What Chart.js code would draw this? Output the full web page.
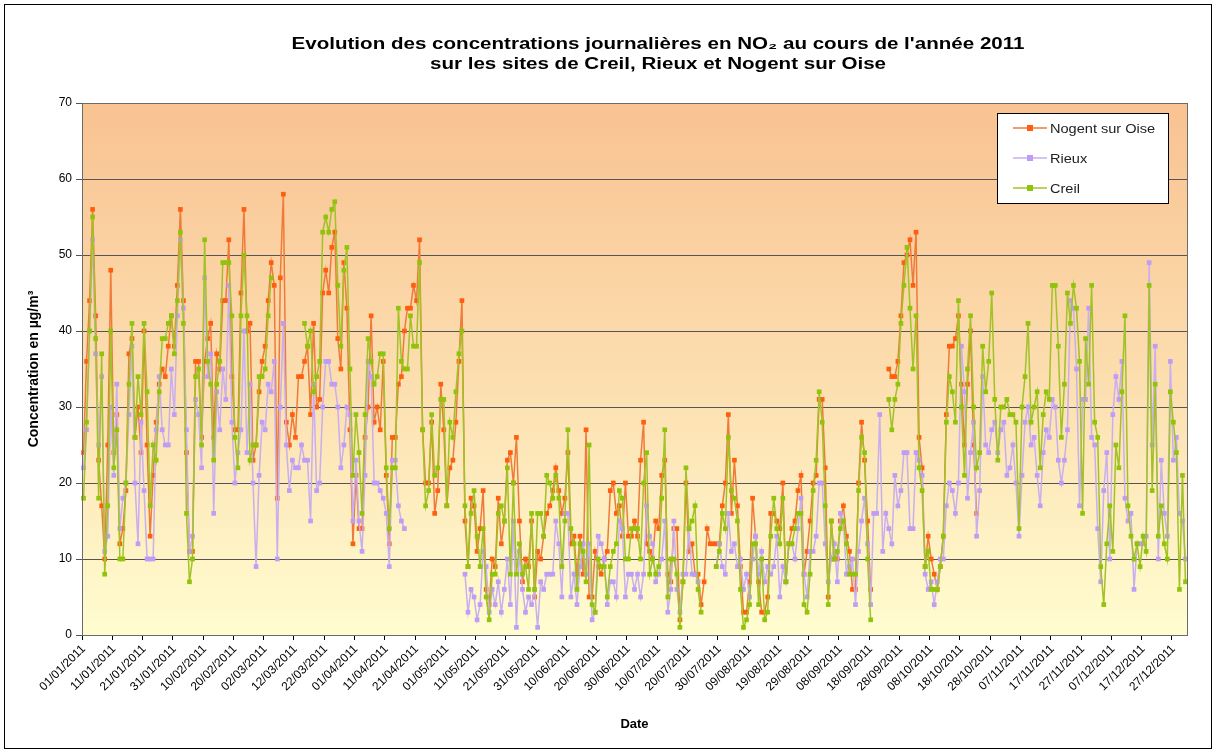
<!DOCTYPE html>
<html>
<head>
<meta charset="utf-8">
<script src="https://cdn.jsdelivr.net/npm/chart.js@4.4.1/dist/chart.umd.min.js"></script>
<style>
  html, body { margin: 0; padding: 0; background: #fff; }
  canvas { display: block; }
</style>
</head>
<body>
<canvas id="no2Chart" width="1216" height="753"></canvas>
<script>
const tickLabels = [
  "01/01/2011", "11/01/2011", "21/01/2011", "31/01/2011", "10/02/2011", "20/02/2011",
  "02/03/2011", "12/03/2011", "22/03/2011", "01/04/2011", "11/04/2011", "21/04/2011",
  "01/05/2011", "11/05/2011", "21/05/2011", "31/05/2011", "10/06/2011", "20/06/2011",
  "30/06/2011", "10/07/2011", "20/07/2011", "30/07/2011", "09/08/2011", "19/08/2011",
  "29/08/2011", "08/09/2011", "18/09/2011", "28/09/2011", "08/10/2011", "18/10/2011",
  "28/10/2011", "07/11/2011", "17/11/2011", "27/11/2011", "07/12/2011", "17/12/2011",
  "27/12/2011"
];

// daily NO2 (µg/m3), one row = 10 days, null = no measurement
const nogent = [
  24, 36, 44, 56, 42, 23, 17, 10, 25, 48,
  24, 29, 12, 14, 19, 37, 39, 26, 30, 24,
  40, 25, 13, 21, 28, 33, 35, 34, 38, 42,
  38, 46, 56, 44, 24, 11, 11, 36, 36, 26,
  36, 39, 41, 26, 37, 35, 44, 44, 52, 34,
  27, 27, 45, 56, 40, 41, 23, 25, 32, 36,
  38, 44, 49, 46, 18, 47, 58, 28, 25, 29,
  26, 34, 34, 36, 38, 29, 41, 30, 31, 45,
  48, 45, 51, 53, 39, 35, 49, 43, 27, 12,
  21, 14, 14, 26, 30, 42, 28, 30, 27, 36,
  21, 12, 26, 26, 33, 34, 40, 43, 43, 46,
  44, 52, 27, 20, 20, 28, 16, 19, 33, 27,
  17, 22, 23, 28, 36, 44, 15, 9, 18, 17,
  11, 14, 19, 6, 4, 10, 9, 18, 12, 15,
  23, 24, 20, 26, 15, 7, 10, 9, 15, 5,
  11, 10, 13, 16, 17, 19, 22, 19, 16, 18,
  24, 12, 13, 8, 13, 8, 27, 5, 5, 11,
  9, 8, 10, 11, 19, 20, 16, 17, 13, 20,
  13, 13, 15, 13, 23, 28, 12, 11, 10, 15,
  14, 21, 23, 8, 7, 14, 14, 2, 7, 20,
  11, 12, 8, 8, 4, 7, 14, 12, 12, 12,
  12, 17, 20, 29, 16, 23, 17, 9, 3, 3,
  7, 18, 13, 7, 3, 3, 5, 16, 16, 15,
  14, 20, 7, 12, 14, 15, 19, 21, 8, 11,
  15, 20, 21, 31, 31, 22, 5, 15, 10, 10,
  15, 17, 13, 11, 6, 6, 20, 28, 23, 15,
  6, null, null, null, null, null, 35, 34, 34, 36,
  42, 49, 50, 52, 46, 53, 26, 22, 9, 13,
  10, 8, 6, 9, 13, 29, 38, 38, 39, 42,
  33, 25, 33, 40, 25, 16, null, null, null, null,
  null, null, null, null, null, null, null, null, null, null,
  null, null, null, null, null, null, null, null, null, null,
  null, null, null, null, null, null, null, null, null, null,
  null, null, null, null, null, null, null, null, null, null,
  null, null, null, null, null, null, null, null, null, null,
  null, null, null, null, null, null, null, null, null, null,
  null, null, null, null, null
];

const rieux = [
  22, 27, 40, 52, 37, 25, 34, 11, 13, 30,
  21, 33, 14, 18, 20, 29, 38, 20, 12, 28,
  19, 10, 10, 10, 27, 34, 27, 25, 25, 35,
  29, 42, 52, 43, 27, 11, 13, 31, 29, 22,
  47, 34, 37, 16, 32, 27, 35, 31, 46, 28,
  20, 24, 27, 40, 24, 33, 20, 9, 21, 28,
  27, 33, 32, 36, 10, 30, 41, 25, 19, 23,
  22, 22, 25, 23, 23, 15, 33, 19, 20, 30,
  36, 36, 33, 33, 30, 22, 25, 30, 29, 15,
  23, 15, 11, 21, 36, 34, 20, 20, 19, 18,
  16, 9, 23, 23, 17, 15, 14, null, null, null,
  null, null, null, null, null, null, null, null, null, null,
  null, null, null, null, null, null, 8, 3, 6, 5,
  2, 4, 11, 9, 3, 6, 4, 7, 3, 6,
  10, 4, 15, 1, 11, 6, 3, 5, 4, 6,
  1, 7, 6, 8, 8, 8, 15, 12, 5, 16,
  16, 5, 8, 4, 9, 12, 8, 12, 2, 3,
  13, 12, 10, 4, 7, 7, 5, 15, 14, 5,
  8, 8, 6, 8, 5, 8, 17, 13, 12, 7,
  8, 10, 15, 3, 6, 15, 6, 3, 8, 8,
  14, 8, 8, 7, null, null, null, null, null, 9,
  12, 9, 8, 16, 11, 12, 9, 10, 6, 8,
  5, 10, 13, 8, 11, 7, 9, 8, 9, 13,
  5, 9, 7, 12, 12, 10, 14, 18, 8, 5,
  11, 11, 13, 20, 20, 12, 7, 10, 12, 7,
  16, 15, 8, 9, 10, 4, 11, 15, 18, 12,
  4, 16, 16, 29, 11, 16, 14, 12, 21, 17,
  19, 24, 24, 14, 14, 24, 23, 21, 8, 6,
  7, 4, 7, 10, 10, 17, 20, 19, 16, 20,
  38, 32, 18, 24, 28, 13, 19, 34, 25, 24,
  27, 28, 24, 27, 28, 21, 22, 25, 20, 13,
  21, 28, 30, 25, 26, 21, 17, 24, 27, 26,
  31, 30, 23, 20, 23, 27, 44, 43, 35, 17,
  31, 31, 43, 26, 25, 14, 7, 19, 24, 10,
  29, 34, 31, 36, 18, 15, 16, 6, 12, 12,
  12, 13, 49, 25, 38, 10, 23, 16, 13, 36,
  23, 26, 16, 15, 10
];

const creil = [
  18, 28, 40, 55, 39, 18, 37, 8, 17, 40,
  22, 27, 10, 10, 20, 33, 41, 26, 34, 29,
  41, 32, 17, 25, 23, 32, 39, 39, 41, 42,
  37, 44, 53, 41, 16, 7, 10, 34, 35, 25,
  52, 36, 33, 23, 33, 36, 49, 49, 49, 42,
  26, 22, 42, 50, 42, 23, 25, 25, 34, 34,
  35, 42, 47, null, null, null, null, null, null, null,
  null, null, null, 41, 38, 40, 32, 34, 36, 53,
  55, 53, 56, 57, 46, 38, 48, 51, 35, 21,
  29, 24, 16, 29, 39, 36, 33, 34, 37, 37,
  22, 14, 22, 22, 43, 36, 35, 35, 42, 38,
  38, 49, 27, 17, 19, 29, 21, 22, 31, 31,
  17, 28, 26, 32, 37, 40, 17, 9, 16, 19,
  13, 9, 14, 5, 2, 8, 8, 16, 17, 15,
  22, 8, 20, 8, 12, 8, 9, 6, 16, 6,
  16, 16, 13, 21, 20, 18, 21, 18, 9, 15,
  27, 14, 12, 6, 12, 11, 7, 25, 4, 3,
  10, 9, 9, 5, 9, 11, 12, 19, 18, 10,
  10, 14, 14, 14, 10, 20, 24, 8, 10, 8,
  9, 18, 27, 5, 10, 10, 8, 1, 7, 22,
  14, 15, 17, 6, 3, null, null, null, null, 9,
  11, 16, 14, 26, 19, 18, 15, 6, 1, 2,
  4, 12, 12, 4, 10, 2, 3, 13, 18, 14,
  12, 18, 7, 12, 12, 14, 16, 16, 4, 3,
  8, 19, 23, 32, 28, 17, 4, 15, 10, 11,
  14, 15, 12, 8, 8, 8, 19, 26, 24, 10,
  2, null, null, null, null, null, 31, 27, 31, 33,
  41, 46, 51, 43, 35, 42, 22, 19, 9, 11,
  6, 6, 6, 9, 13, 28, 34, 32, 28, 44,
  30, 21, 35, 42, 30, 22, 24, 38, 32, 36,
  45, 31, 23, 30, 30, 31, 29, 29, 28, 14,
  30, 34, 41, 28, 30, 32, 22, 29, 32, 31,
  46, 46, 38, 26, 33, 45, 41, 46, 43, 36,
  16, 39, 33, 46, 28, 26, 9, 4, 12, 17,
  11, 25, 22, 32, 42, 17, 13, 10, 12, 9,
  13, 11, 46, 19, 33, 13, 17, 12, 10, 32,
  28, 24, 6, 21, 7
];

// one category per day of 2011
const days = [];
for (let d = new Date(2011, 0, 1); d.getFullYear() === 2011; d.setDate(d.getDate() + 1)) {
  days.push(String(d.getDate()).padStart(2, "0") + "/" + String(d.getMonth() + 1).padStart(2, "0") + "/2011");
}
if (nogent.length !== 365 || rieux.length !== 365 || creil.length !== 365) {
  throw new Error("lengths " + nogent.length + " " + rieux.length + " " + creil.length);
}

const colors = {
  nogent: { line: "#EE7B3A", point: "#FF5E0E" },
  rieux: { line: "#C9AEF0", point: "#BF9CF5" },
  creil: { line: "#A2C227", point: "#8FC40A" },
};
const FONT = "'Liberation Sans', Arial, sans-serif";

function wideText(ctx, text, x, y, scaleX, align) {
  ctx.save();
  ctx.translate(x, y);
  ctx.scale(scaleX, 1);
  ctx.textAlign = align;
  ctx.fillText(text, 0, 0);
  ctx.restore();
}

const frame = {
  id: "frame",
  beforeDraw(chart) {
    const { ctx, chartArea: a } = chart;
    ctx.save();
    ctx.fillStyle = "#fff";
    ctx.fillRect(0, 0, chart.width, chart.height);
    const g = ctx.createLinearGradient(0, a.top, 0, a.bottom);
    g.addColorStop(0, "#F9C291");
    g.addColorStop(0.5, "#FCDDAE");
    g.addColorStop(1, "#FFFDD0");
    ctx.fillStyle = g;
    ctx.fillRect(a.left, a.top, a.right - a.left, a.bottom - a.top);
    ctx.restore();
  },
  afterDraw(chart) {
    const { ctx, chartArea: a } = chart;
    ctx.save();
    // plot border
    ctx.strokeStyle = "#6b6b6b";
    ctx.lineWidth = 1;
    ctx.strokeRect(a.left + 0.5, a.top + 0.5, a.right - a.left, a.bottom - a.top);
    // outer border
    ctx.strokeStyle = "#000";
    ctx.strokeRect(4.5, 4.5, chart.width - 9, chart.height - 9);

    // title
    ctx.fillStyle = "#000";
    ctx.textBaseline = "alphabetic";
    ctx.font = "bold 16px " + FONT;
    const t1 = "Evolution des concentrations journalières en NO₂ au cours de l'année 2011";
    const t2 = "sur les sites de Creil, Rieux et Nogent sur Oise";
    const sx = 733 / ctx.measureText(t1).width;
    wideText(ctx, t1, 658, 49, sx, "center");
    wideText(ctx, t2, 658, 69, sx, "center");

    // legend box
    const lx = 997, ly = 113, lw = 171, lh = 90;
    ctx.fillStyle = "#fff";
    ctx.fillRect(lx, ly, lw, lh);
    ctx.strokeStyle = "#000";
    ctx.strokeRect(lx + 0.5, ly + 0.5, lw, lh);
    const entries = [
      ["Nogent sur Oise", colors.nogent],
      ["Rieux", colors.rieux],
      ["Creil", colors.creil],
    ];
    ctx.font = "13px " + FONT;
    ctx.textBaseline = "middle";
    entries.forEach(([name, c], i) => {
      const y = ly + 15 + i * 30;
      ctx.strokeStyle = c.line;
      ctx.lineWidth = 1.5;
      ctx.beginPath();
      ctx.moveTo(lx + 16, y);
      ctx.lineTo(lx + 50, y);
      ctx.stroke();
      ctx.fillStyle = c.point;
      ctx.fillRect(lx + 30, y - 3, 6, 6);
      ctx.fillStyle = "#222";
      wideText(ctx, name, lx + 53, y + 1, 1.12, "left");
    });
    ctx.restore();
  },
};

function series(label, data, c, order) {
  return {
    label,
    data,
    order,
    borderColor: c.line,
    backgroundColor: c.point,
    pointBackgroundColor: c.point,
    pointBorderColor: c.point,
    borderWidth: 1.5,
    pointRadius: 3.3,
    pointBorderWidth: 0,
    pointStyle: "rect",
    tension: 0,
    spanGaps: false,
  };
}

new Chart(document.getElementById("no2Chart"), {
  type: "line",
  data: {
    labels: days,
    datasets: [
      series("Nogent sur Oise", nogent, colors.nogent, 2),
      series("Rieux", rieux, colors.rieux, 1),
      series("Creil", creil, colors.creil, 0),
    ],
  },
  options: {
    responsive: false,
    animation: false,
    devicePixelRatio: 1,
    layout: { padding: { top: 103, right: 29, bottom: 12, left: 8 } },
    plugins: {
      legend: { display: false },
      title: { display: false },
      tooltip: { enabled: false },
    },
    scales: {
      x: {
        type: "category",
        offset: true,
        afterFit: (scale) => { scale.height = 106; },
        grid: {
          offset: true,
          drawOnChartArea: false,
          tickLength: 5,
          color: (ctx) => (ctx.index % 10 === 0 ? "#000" : "rgba(0,0,0,0)"),
        },
        border: { color: "#000", width: 1 },
        ticks: {
          autoSkip: false,
          maxRotation: 45,
          minRotation: 45,
          padding: 2,
          color: "#000",
          font: { family: FONT, size: 12 },
          callback: (value, index) => (index % 10 === 0 ? tickLabels[index / 10] : ""),
        },
        title: {
          display: true,
          text: "Date",
          color: "#000",
          font: { family: FONT, size: 13, weight: "bold" },
          padding: { top: 0, bottom: 9 },
        },
      },
      y: {
        min: 0,
        max: 70,
        afterFit: (scale) => { scale.width = 74; },
        grid: { color: "#555", lineWidth: 1, tickLength: 6 },
        border: { color: "#000", width: 1 },
        ticks: {
          stepSize: 10,
          padding: 4,
          color: "#000",
          font: { family: FONT, size: 12 },
        },
        title: {
          display: true,
          text: "Concentration en µg/m³",
          color: "#000",
          font: { family: FONT, size: 14, weight: "bold" },
          padding: { top: 18, bottom: 0 },
        },
      },
    },
  },
  plugins: [frame],
});
</script>
</body>
</html>
